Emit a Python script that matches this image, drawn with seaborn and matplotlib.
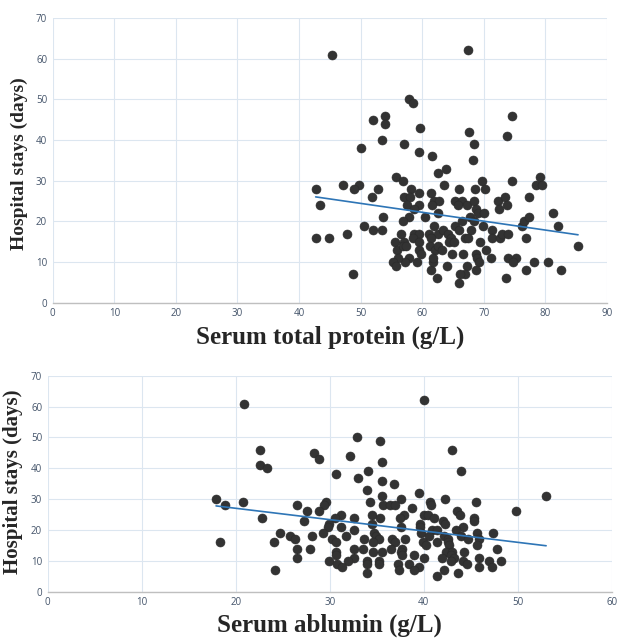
import numpy as np
import pandas as pd
import matplotlib
matplotlib.use("Agg")
import matplotlib.pyplot as plt
import seaborn as sns

# Serum total protein (g/L) vs hospital stay (days)
protein = [45.3, 67.4, 57.9, 58.5, 52.0, 53.9, 53.9, 59.6, 74.6, 53.4,
           57.0, 50.0, 67.6, 68.4, 73.8, 59.5, 68.3, 61.6, 63.9, 62.5,
           55.8, 56.9, 69.7, 74.5, 79.2, 78.4, 79.4, 42.7, 47.2, 49.7,
           49.0, 52.9, 51.9, 58.2, 59.5, 61.4, 63.6, 65.9, 68.5, 70.2,
           77.4, 72.3, 73.5, 73.7, 72.5, 43.4, 57.1, 58.0, 57.5, 59.5,
           58.7, 61.9, 62.7, 61.6, 62.6, 65.4, 66.4, 65.8, 67.2, 68.4,
           68.8, 69.1, 70.0, 60.5, 57.9, 56.9, 53.7, 50.5, 52.0, 53.4,
           47.8, 42.7, 44.9, 56.6, 58.7, 59.5, 58.5, 61.9, 61.1, 62.5,
           61.4, 63.4, 64.2, 64.6, 65.4, 65.9, 66.5, 67.7, 68.4, 68.0,
           69.9, 71.4, 71.3, 72.6, 72.9, 73.9, 76.2, 76.6, 77.4, 76.9,
           81.2, 82.0, 85.3, 55.6, 57.1, 55.9, 56.8, 57.3, 59.5, 59.5,
           59.8, 61.2, 62.0, 62.6, 63.2, 64.4, 65.2, 64.9, 66.6, 66.9,
           67.5, 69.4, 70.4, 68.8, 68.9, 69.3, 71.1, 73.9, 75.2, 74.7,
           78.1, 80.5, 82.6, 76.8, 73.6, 68.7, 67.2, 66.9, 66.1, 66.0,
           64.0, 62.4, 61.4, 61.8, 61.7, 59.2, 57.9, 57.2, 56.1, 55.3,
           55.7, 48.8]
protein_stay = [61, 62, 50, 49, 45, 46, 44, 43, 46, 40,
                39, 38, 42, 39, 41, 37, 35, 36, 33, 32,
                31, 30, 30, 30, 31, 29, 29, 28, 29, 29,
                28, 28, 26, 28, 27, 27, 29, 28, 28, 28,
                26, 25, 26, 24, 23, 24, 26, 26, 24, 24,
                23, 25, 25, 24, 22, 25, 25, 24, 24, 25,
                23, 22, 22, 21, 21, 20, 21, 19, 18, 18,
                17, 16, 16, 17, 17, 17, 16, 19, 17, 17,
                16, 18, 17, 16, 19, 18, 20, 21, 20, 18,
                19, 18, 16, 16, 17, 17, 19, 20, 21, 16,
                22, 19, 14, 15, 15, 13, 14, 14, 15, 13,
                12, 14, 13, 14, 13, 15, 15, 12, 12, 16,
                16, 15, 13, 12, 11, 10, 11, 11, 11, 10,
                10, 10, 8, 8, 6, 8, 9, 7, 7, 5,
                9, 6, 8, 10, 11, 10, 11, 10, 11, 10,
                9, 7]

# Serum albumin (g/L) vs hospital stay (days)
albumin = [20.9, 40.0, 32.9, 35.3, 22.6, 43.0, 28.3, 28.9, 32.1, 22.6,
           23.3, 35.6, 34.1, 43.9, 30.7, 33.0, 35.5, 36.8, 34.0, 39.5,
           53.0, 35.6, 17.9, 20.8, 18.8, 37.6, 42.2, 45.5, 29.6, 34.3,
           40.6, 26.5, 29.4, 35.7, 36.4, 36.9, 40.8, 38.7, 27.6, 28.9,
           49.8, 43.5, 43.8, 31.2, 34.5, 37.9, 40.0, 40.4, 22.8, 30.5,
           32.6, 35.3, 37.5, 41.1, 45.3, 27.3, 45.3, 42.0, 39.6, 34.5,
           29.9, 42.2, 31.2, 37.6, 39.6, 44.2, 29.8, 32.6, 40.9, 41.4,
           43.4, 24.7, 29.3, 34.7, 39.7, 45.7, 47.4, 25.8, 28.1, 31.7,
           34.9, 42.1, 44.0, 40.5, 26.3, 30.2, 33.6, 35.2, 36.6, 38.0,
           42.6, 44.7, 45.9, 41.4, 39.9, 18.3, 24.1, 30.7, 34.6, 36.9,
           42.6, 40.2, 42.7, 45.6, 32.6, 33.5, 36.5, 37.7, 26.5, 27.9,
           47.8, 30.7, 34.6, 35.5, 37.6, 42.4, 43.0, 44.3, 30.7, 38.9,
           37.7, 42.9, 26.5, 32.6, 40.0, 41.9, 43.2, 45.9, 29.9, 31.9,
           34.0, 35.2, 42.9, 44.2, 46.9, 48.2, 30.8, 33.9, 35.2, 37.2,
           38.4, 44.6, 31.3, 39.5, 45.9, 47.2, 24.2, 37.4, 39.0, 42.1,
           33.9, 43.6, 41.4]
albumin_stay = [61, 62, 50, 49, 46, 46, 45, 43, 44, 41,
                40, 42, 39, 39, 38, 37, 36, 35, 33, 32,
                31, 31, 30, 29, 28, 30, 30, 29, 29, 29,
                29, 28, 28, 28, 28, 28, 28, 27, 26, 26,
                26, 26, 25, 25, 25, 25, 25, 25, 24, 24,
                24, 24, 24, 24, 24, 23, 23, 23, 22, 22,
                22, 22, 21, 21, 21, 21, 21, 20, 20, 20,
                20, 19, 19, 19, 19, 19, 19, 18, 18, 18,
                18, 18, 18, 18, 17, 17, 17, 17, 17, 17,
                17, 17, 17, 16, 16, 16, 16, 16, 16, 16,
                16, 15, 15, 15, 14, 14, 14, 14, 14, 14,
                14, 13, 13, 13, 13, 13, 13, 13, 12, 12,
                12, 12, 11, 11, 11, 11, 11, 11, 10, 10,
                10, 10, 10, 10, 10, 10, 9, 9, 9, 9,
                9, 9, 8, 8, 8, 8, 7, 7, 7, 7,
                6, 6, 5]

top_df = pd.DataFrame({"protein": protein, "stay": protein_stay})
bot_df = pd.DataFrame({"albumin": albumin, "stay": albumin_stay})

sns.set_theme(style="whitegrid")
plt.rcParams["font.family"] = ["Open Sans", "DejaVu Sans"]

fig = plt.figure(figsize=(6.2, 6.39), dpi=100)
ax1 = fig.add_axes([0.085, 0.526, 0.894, 0.446])
ax2 = fig.add_axes([0.077, 0.074, 0.910, 0.338])

dot_kws = {"s": 42, "color": "#333333", "edgecolor": "#2a2a2a", "linewidths": 0.4, "alpha": 1}
line_kws = {"color": "#2e75b6", "linewidth": 1.2}
label_font = {"family": "Liberation Serif", "weight": "bold"}

sns.regplot(data=top_df, x="protein", y="stay", ci=None, ax=ax1,
            scatter_kws=dot_kws, line_kws=line_kws)
sns.regplot(data=bot_df, x="albumin", y="stay", ci=None, ax=ax2,
            scatter_kws=dot_kws, line_kws=line_kws)

ax1.set_xlim(0, 90)
ax1.set_xticks(range(0, 91, 10))
ax2.set_xlim(0, 60)
ax2.set_xticks(range(0, 61, 10))

for ax in (ax1, ax2):
    ax.set_ylim(0, 70)
    ax.set_yticks(range(0, 71, 10))
    ax.grid(True, color="#dce6f0", linewidth=0.8)
    ax.tick_params(axis="both", length=0, labelsize=7, colors="#44546a", pad=4)
    for side in ("top", "right", "left"):
        ax.spines[side].set_visible(False)
    ax.spines["bottom"].set_color("#bfbfbf")
    ax.spines["bottom"].set_linewidth(1.0)
    ax.set_facecolor("white")

ax1.set_ylabel("Hospital stays (days)", fontsize=14, **label_font)
ax1.set_xlabel("Serum total protein (g/L)", fontsize=18, **label_font)
ax1.yaxis.set_label_coords(-0.045, 0.49)
ax1.xaxis.set_label_coords(0.5, -0.078)

ax2.set_ylabel("Hospital stays (days)", fontsize=15, **label_font)
ax2.set_xlabel("Serum ablumin (g/L)", fontsize=18, **label_font)
ax2.yaxis.set_label_coords(-0.044, 0.51)
ax2.xaxis.set_label_coords(0.5, -0.1)

fig.savefig("out.png", dpi=100, facecolor="white")
